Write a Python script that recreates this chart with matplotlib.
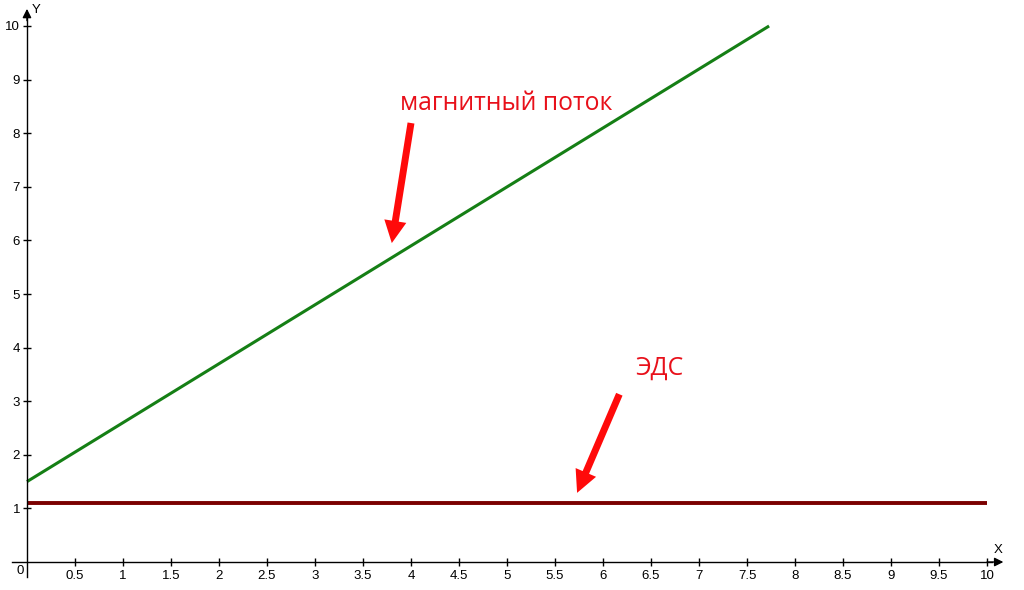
import numpy as np
import matplotlib
matplotlib.use("Agg")
import matplotlib.pyplot as plt

# Data
flux_x = [0.0, 7.73]
flux_y = [1.5, 10.0]
emf_x = [0.0, 10.0]
emf_y = [1.1, 1.1]
x_ticks = [0.5, 1, 1.5, 2, 2.5, 3, 3.5, 4, 4.5, 5, 5.5, 6, 6.5, 7, 7.5, 8, 8.5, 9, 9.5, 10]
x_tick_labels = ["0.5", "1", "1.5", "2", "2.5", "3", "3.5", "4", "4.5", "5",
                 "5.5", "6", "6.5", "7", "7.5", "8", "8.5", "9", "9.5", "10"]
y_ticks = [1, 2, 3, 4, 5, 6, 7, 8, 9, 10]
y_tick_labels = [str(v) for v in y_ticks]
label_flux = "магнитный поток"
label_emf = "ЭДС"

fig = plt.figure(figsize=(10.24, 5.9), dpi=100)
ax = fig.add_axes([0, 0, 1, 1])
ax.set_xlim(-0.281, 10.385)
ax.set_ylim(-0.522, 10.485)

for s in ["top", "right"]:
    ax.spines[s].set_visible(False)
ax.spines["left"].set_position(("data", 0))
ax.spines["bottom"].set_position(("data", 0))
ax.spines["left"].set_bounds(-0.28, 10.15)
ax.spines["bottom"].set_bounds(-0.156, 10.05)
ax.spines["left"].set_linewidth(1.0)
ax.spines["bottom"].set_linewidth(1.0)

tick_font = dict(family=["Liberation Sans", "DejaVu Sans"], size=9.5)
ax.set_xticks(x_ticks)
ax.set_xticklabels(x_tick_labels, **tick_font)
ax.set_yticks(y_ticks)
ax.set_yticklabels(y_tick_labels, **tick_font)
ax.tick_params(axis="both", direction="inout", length=6, width=1, colors="black")
ax.tick_params(axis="x", pad=3)
ax.tick_params(axis="y", pad=2)

# axis arrows
ax.annotate("", xy=(10.17, 0), xytext=(10.0, 0),
            arrowprops=dict(arrowstyle="-|>", color="black", lw=1, mutation_scale=13,
                            shrinkA=0, shrinkB=0))
ax.annotate("", xy=(0, 10.32), xytext=(0, 10.1),
            arrowprops=dict(arrowstyle="-|>", color="black", lw=1, mutation_scale=13,
                            shrinkA=0, shrinkB=0))
ax.text(10.07, 0.12, "X", ha="left", va="bottom", **tick_font)
ax.text(0.05, 10.18, "Y", ha="left", va="bottom", **tick_font)
ax.text(-0.03, -0.06, "0", ha="right", va="top", **tick_font)

# series
ax.plot(emf_x, emf_y, color="#7a0000", lw=2.8, solid_capstyle="butt")
ax.plot(flux_x, flux_y, color="#157f15", lw=2.2, solid_capstyle="butt")

# annotations
txt_font = dict(family=["Open Sans", "DejaVu Sans"], size=17.8, color="#e8101a")
ax.text(4.99, 8.545, label_flux, ha="center", va="center", **txt_font)
ax.text(6.59, 3.62, label_emf, ha="center", va="center", **txt_font)

arrow_kw = dict(arrowstyle="simple,head_length=1.6,head_width=1.6,tail_width=0.5",
                fc="#ff0a0a", ec="none", lw=0, mutation_scale=10,
                shrinkA=0, shrinkB=0)
ax.annotate("", xy=(3.80, 5.95), xytext=(4.0, 8.19), arrowprops=arrow_kw)
ax.annotate("", xy=(5.73, 1.29), xytext=(6.17, 3.13), arrowprops=arrow_kw)

fig.savefig("out.png", dpi=100)
